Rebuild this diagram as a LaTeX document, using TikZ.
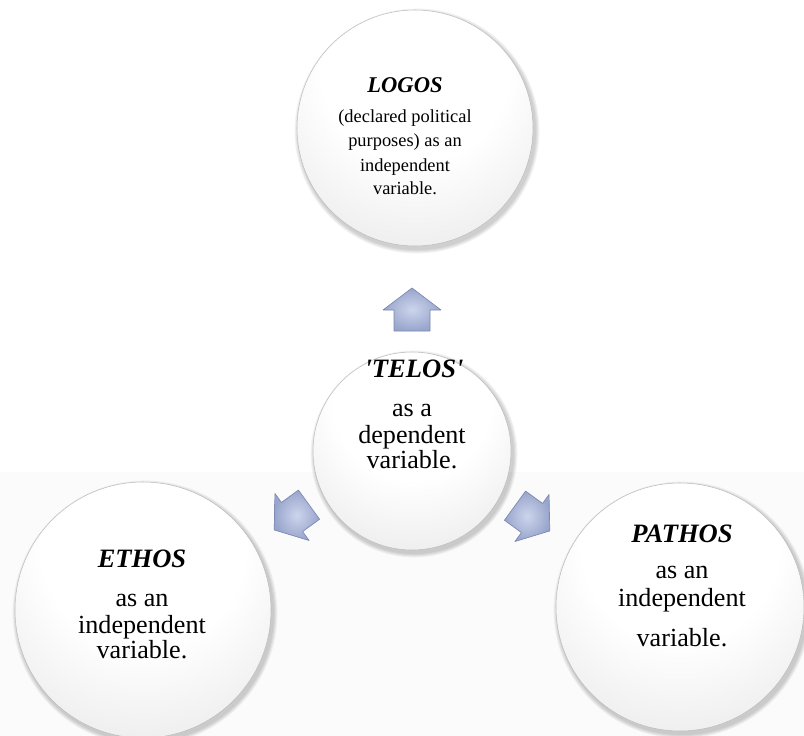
\documentclass[tikz,border=0pt]{standalone}
\usepackage{fontspec}
\setmainfont{Liberation Serif}

% white ball, lit from above, greying towards its lower rim
\pgfdeclareradialshading{ballshade}{\pgfpoint{0bp}{18bp}}{%
  color(0bp)=(white); color(20bp)=(white); color(38bp)=(black!8);
  color(52bp)=(black!15); color(61bp)=(black!26); color(66bp)=(black!42);
  color(69bp)=(black!55)}

\definecolor{arrowlight}{HTML}{CDD5EC}
\definecolor{arrowdark}{HTML}{98A5CC}
\definecolor{arrowedge}{HTML}{7B87AE}

\tikzset{
  ball/.style={circle, shading=ballshade, draw=black!26, line width=0.4pt,
    inner sep=0pt, outer sep=0pt},
  arrowbody/.style={draw=arrowedge, line width=0.5pt, line join=round,
    shading=radial, inner color=arrowlight, outer color=arrowdark},
  blockarrow/.pic={
    \path[arrowbody] (-21,-18) -- (0,-18) -- (0,-29) -- (22,0) -- (0,29)
      -- (0,18) -- (-21,18) -- cycle;
  },
  ttlS/.style={font=\fontsize{16.9}{20}\selectfont\bfseries\itshape, anchor=base, inner sep=0pt},
  bodyS/.style={font=\fontsize{13.8}{18}\selectfont, anchor=base, inner sep=0pt},
  ttlL/.style={font=\fontsize{19.9}{24}\selectfont\bfseries\itshape, anchor=base, inner sep=0pt},
  bodyL/.style={font=\fontsize{19.6}{24}\selectfont, anchor=base, inner sep=0pt},
}

\begin{document}
\begin{tikzpicture}[x=0.75pt, y=-0.75pt]
\useasboundingbox (0,0) rectangle (804,736);
\fill[black!1.5] (0,472) rectangle (804,736);

% soft shadows under the balls
\foreach \cx/\cy/\r in {415/128/118, 412/451/99, 143/610/128, 680/607/124}{
  \foreach \k in {1,...,4}
    \fill[black, opacity=0.05] (\cx+2,\cy+3) circle ({\r+\k*1.1});
}

% the four balls
\node[ball, minimum size=177pt]   (logos)  at (415,128) {};
\node[ball, minimum size=148.5pt] (telos)  at (412,451) {};
\node[ball, minimum size=192pt]   (ethos)  at (143,610) {};
\node[ball, minimum size=186pt]   (pathos) at (680,607) {};

% block arrows from the centre ball outwards
\pic[rotate=90]  at (412,310) {blockarrow};
\pic[rotate=216] at (292,517) {blockarrow};
\pic[rotate=-36] at (532,518) {blockarrow};

% LOGOS
\node[ttlS] (logos-t) at (405,92) {LOGOS};
\foreach \txt/\y [count=\i] in {{(declared political}/122, {purposes) as an}/146,
    {independent}/171, {variable.}/194}
  \node[bodyS] (logos-\i) at (405,\y) {\txt};

% TELOS
\node[ttlL] (telos-t) at (414,377) {\textquotesingle TELOS\textquotesingle};
\foreach \txt/\y [count=\i] in {{as a}/416, {dependent}/443, {variable.}/468}
  \node[bodyL] (telos-\i) at (412,\y) {\txt};

% ETHOS
\node[ttlL] (ethos-t) at (142,567) {ETHOS};
\foreach \txt/\y [count=\i] in {{as an}/606, {independent}/633, {variable.}/658}
  \node[bodyL] (ethos-\i) at (142,\y) {\txt};

% PATHOS
\node[ttlL] (pathos-t) at (682,542) {PATHOS};
\foreach \txt/\y [count=\i] in {{as an}/578, {independent}/606, {variable.}/646}
  \node[bodyL] (pathos-\i) at (682,\y) {\txt};
\end{tikzpicture}
\end{document}
